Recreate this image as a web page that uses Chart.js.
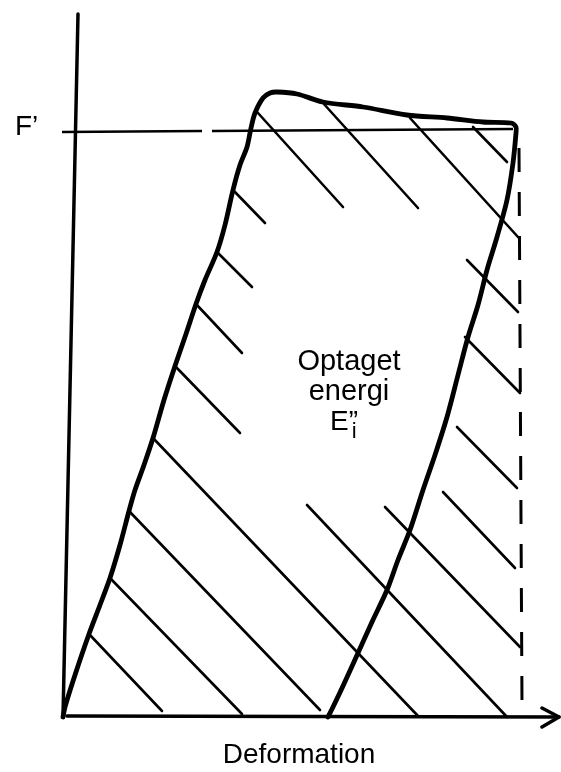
<!DOCTYPE html>
<html>
<head>
<meta charset="utf-8">
<script src="https://cdn.jsdelivr.net/npm/chart.js@4/dist/chart.umd.min.js"></script>
<style>
  body { margin: 0; background: #fff; }
  canvas { display: block; }
</style>
</head>
<body>
<canvas id="chart" width="561" height="772"></canvas>
<script>
// Force / deformation sketch, values in drawing units (origin at the axes crossing)

// absorbed-energy loop: loading branch, top plateau, unloading branch
var loopX = [0, 2, 12, 26, 37, 47, 57, 66, 72, 81, 90, 101, 112, 123, 133, 142, 154, 162, 170, 177, 184, 188, 192, 200, 207, 214, 234, 260, 300, 344, 384, 420, 448, 453, 453, 450, 444, 434, 424, 415, 405, 395, 384, 372, 360, 347, 335, 324, 309, 295, 280, 270, 265];
var loopY = [0, 10, 42, 83, 112, 139, 172, 206, 227, 252, 279, 317, 351, 383, 413, 437, 465, 492, 527, 552, 570, 589, 604, 619, 624, 625, 623, 615, 610, 602, 599, 595, 594, 590, 584, 554, 517, 480, 447, 412, 380, 342, 300, 262, 227, 187, 157, 127, 95, 64, 31, 10, 0];

// F' level line and the dashed end line
var fLevelX = [-1, 450];
var fLevelY = [585, 588];
var endLineX = [456, 459];
var endLineY = [569, 12];

// axes (vertical one leans slightly)
var yAxisX = [15, 0];
var yAxisY = [703, 0];
var xAxisX = [4, 496];
var xAxisY = [1, 0];
var arrowX = [479, 496, 479];
var arrowY = [9, 0, -10];

// hatching strokes: [x1, y1, x2, y2]
var hatchLines = [
    [195, 604, 280, 510],
    [260, 614, 355, 509],
    [347, 599, 455, 480],
    [410, 590, 444, 555],
    [170, 527, 202, 494],
    [154, 465, 189, 430],
    [133, 413, 179, 364],
    [112, 351, 177, 284],
    [90, 279, 355, 1],
    [66, 206, 257, 7],
    [47, 139, 179, 3],
    [26, 83, 99, 6],
    [404, 457, 455, 405],
    [402, 380, 457, 324],
    [394, 290, 454, 229],
    [380, 225, 452, 149],
    [322, 210, 457, 70],
    [244, 212, 444, 0]
];

var fLabel = 'F\u2019';
var areaLines = ['Optaget', 'energi'];
var xTitle = 'Deformation';

function toPoints(xs, ys) {
    return xs.map(function(x, i) { return { x: x, y: ys[i] }; });
}

function lineSet(points, width, extra) {
    var ds = {
        data: points,
        showLine: true,
        borderColor: '#000',
        borderWidth: width,
        pointRadius: 0,
        fill: false,
        tension: 0,
        borderCapStyle: 'round',
        borderJoinStyle: 'round'
    };
    return Object.assign(ds, extra || {});
}

var datasets = [];
hatchLines.forEach(function(h) {
    datasets.push(lineSet([{ x: h[0], y: h[1] }, { x: h[2], y: h[3] }], 2.6));
});
datasets.push(lineSet(toPoints(fLevelX, fLevelY), 2.6, { borderDash: [140, 10, 1000, 0], borderCapStyle: 'butt' }));
datasets.push(lineSet(toPoints(endLineX, endLineY), 3, { borderDash: [24, 20], borderCapStyle: 'butt' }));
datasets.push(lineSet(toPoints(yAxisX, yAxisY), 3.5));
datasets.push(lineSet(toPoints(xAxisX, xAxisY), 3.5));
datasets.push(lineSet(toPoints(arrowX, arrowY), 3.5));
datasets.push(lineSet(toPoints(loopX, loopY), 4.8, { tension: 0.3 }));

// white page + text labels
var sketchText = {
    id: 'sketchText',
    beforeDraw: function(chart) {
        var ctx = chart.ctx;
        ctx.save();
        ctx.fillStyle = '#fff';
        ctx.fillRect(0, 0, chart.width, chart.height);
        ctx.restore();
    },
    afterDatasetsDraw: function(chart) {
        var ctx = chart.ctx;
        var sx = chart.scales.x, sy = chart.scales.y;
        function px(x) { return sx.getPixelForValue(x); }
        function py(y) { return sy.getPixelForValue(y); }
        ctx.save();
        ctx.fillStyle = '#000';
        ctx.textBaseline = 'alphabetic';

        ctx.font = '28px "Liberation Sans", Arial, sans-serif';
        ctx.textAlign = 'left';
        ctx.fillText(fLabel, px(-48), py(582));

        ctx.font = '29px "Liberation Sans", Arial, sans-serif';
        ctx.textAlign = 'center';
        ctx.fillText(areaLines[0], px(286), py(347));
        ctx.fillText(areaLines[1], px(286), py(317));

        // E'' with subscript i
        ctx.textAlign = 'left';
        ctx.font = '28px "Liberation Sans", Arial, sans-serif';
        ctx.fillText('E', px(267), py(287));
        var ew = ctx.measureText('E').width;
        ctx.fillText('\u201D', px(267) + ew, py(287));
        ctx.font = '22px "Liberation Sans", Arial, sans-serif';
        ctx.fillText('i', px(267) + ew + 3, py(287) + 8);

        ctx.font = '28px "Liberation Sans", Arial, sans-serif';
        ctx.textAlign = 'center';
        ctx.fillText(xTitle, px(236), py(-46));
        ctx.restore();
    }
};

new Chart(document.getElementById('chart'), {
    type: 'scatter',
    data: { datasets: datasets },
    options: {
        responsive: false,
        animation: false,
        devicePixelRatio: 1,
        layout: { padding: 0 },
        plugins: { legend: { display: false }, tooltip: { enabled: false } },
        scales: {
            x: { type: 'linear', min: -63, max: 498, display: false },
            y: { type: 'linear', min: -55, max: 717, display: false }
        }
    },
    plugins: [sketchText]
});
</script>
</body>
</html>
